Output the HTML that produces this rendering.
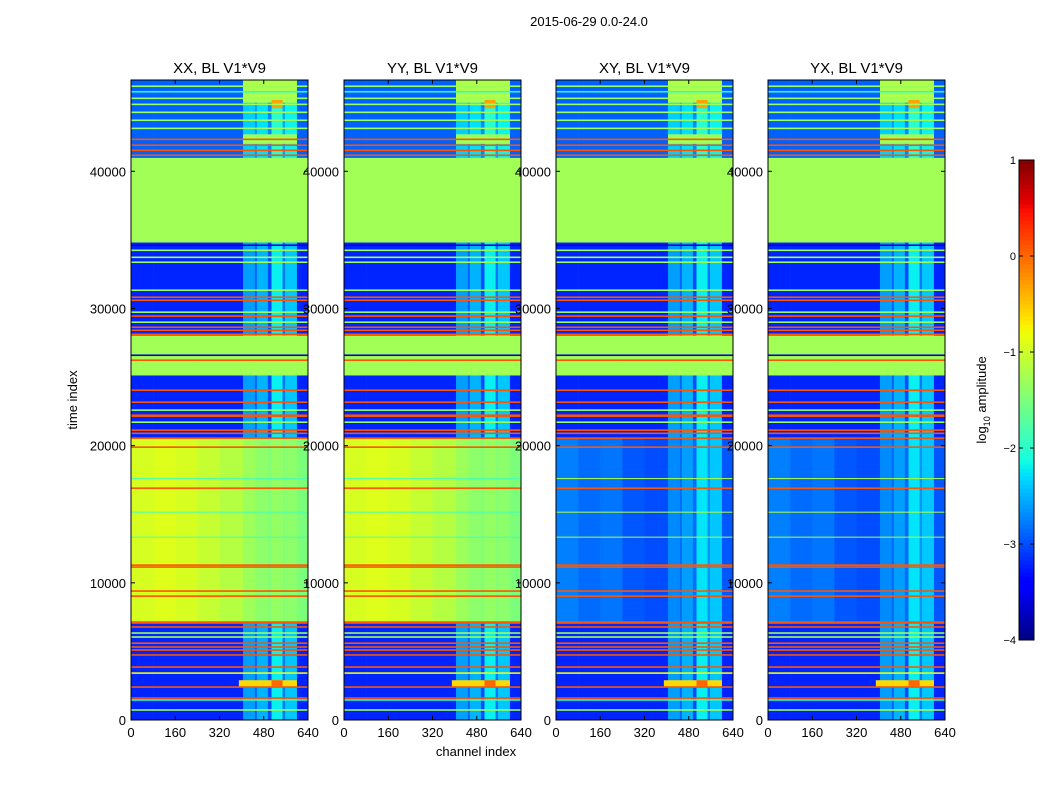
<!DOCTYPE html>
<html><head><meta charset="utf-8">
<style>
body{margin:0;background:#fff;}
svg text{font-family:"Liberation Sans",sans-serif;}
</style></head>
<body>
<svg id="fig" width="1050" height="800" xmlns="http://www.w3.org/2000/svg">
<rect width="1050" height="800" fill="#fff"/>
<text x="589" y="26" font-size="13" text-anchor="middle">2015-06-29 0.0-24.0</text>
<text x="476" y="756" font-size="13" text-anchor="middle">channel index</text>
<text transform="translate(77,400) rotate(-90)" font-size="13" text-anchor="middle">time index</text>
<g id="panels"></g>
<g id="cbar"></g>
</svg>
<script>
// ---- data ----
const panelTitles = ["XX, BL V1*V9","YY, BL V1*V9","XY, BL V1*V9","YX, BL V1*V9"];
const panelIsCross = [false,false,true,true];
const xTicks = [0,160,320,480,640];
const yTicks = [0,10000,20000,30000,40000];
const cbTicks = [1,0,-1,-2,-3,-4];
const chEdges = [0,80,160,240,320,405,448,455,495,508,548,557,600,640];
const blueProfile   = [0,0,0,0,0,0.6,0.3,0.7,0.2,1.0,0.4,0.8,0];
const yellowProfile = [0,0.05,0,-0.1,-0.2,-0.35,-0.4,-0.45,-0.5,-0.4,-0.5,-0.45,-0.55];
const crossMidProfile = [0.2,0.1,0.15,0,-0.05,0.25,0.1,0.35,0.1,0.7,0.3,0.55,0];
const bandStarts = [0,7140,20550,25140,28050,34830,41000];
const bandEnds   = [7140,20550,25140,28050,34830,41000,46656];
const bandKinds  = ["B","M","B","F","B","F","T"];
const lineTimes  = [730,1460,1600,2400,3420,3860,4740,5100,5320,5600,6050,6340,6780,7070,7140,9030,9400,11150,11290,16900,19890,20550,20900,21130,21710,22150,22220,22590,23170,24040,26230,26590,28120,28410,28630,29000,29440,29730,30600,30820,31330,33370,33730,34240,34610,41170,41530,41900,42330,43130,43720,44300,44880,45320,45800,46200];
const lineValues = [-1.3,-2.0,0.1,0.1,-0.8,0.1,0.1,0.1,0.1,0.1,-1.3,-1.3,0.1,0.1,0.1,0.1,0.1,0.1,0.1,0.1,0.1,0.1,0.1,0.1,-1.3,0.1,0.1,-1.3,0.1,0.1,0.1,-3.6,0.1,0.1,0.1,-1.3,0.1,-1.3,0.1,0.1,-1.3,-1.3,-1.3,-1.3,-3.6,0.1,0.1,0.1,0.1,-1.3,-1.3,-1.3,-1.3,-1.3,-2.0,-1.3];
const faintTimes = [13330,15150,17600];
const patchT0 = [2450,2450,45000,44600,42000];
const patchT1 = [2900,2900,46656,45200,42700];
const patchC0 = [390,508,405,508,405];
const patchC1 = [600,548,600,548,600];
const patchV  = [-0.6,0.0,-1.2,-0.3,-1.3];
const tMax = 46656;

// ---- helpers ----
function interp(pts,x){for(let i=1;i<pts.length;i++){if(x<=pts[i][0]){const a=pts[i-1],b=pts[i];return a[1]+(b[1]-a[1])*(x-a[0])/(b[0]-a[0]);}}return pts[pts.length-1][1];}
function jet(v){let x=(v+4)/5;x=Math.max(0,Math.min(1,x));
 const r=interp([[0,0],[0.35,0],[0.66,1],[0.89,1],[1,0.5]],x);
 const g=interp([[0,0],[0.125,0],[0.375,1],[0.64,1],[0.91,0],[1,0]],x);
 const b=interp([[0,0.5],[0.11,1],[0.34,1],[0.65,0],[1,0]],x);
 return `rgb(${Math.round(r*255)},${Math.round(g*255)},${Math.round(b*255)})`;}
const NS="http://www.w3.org/2000/svg";
function mk(tag,attrs,parent){const e=document.createElementNS(NS,tag);for(const k in attrs)e.setAttribute(k,attrs[k]);parent.appendChild(e);return e;}

const panelX=[131,344,556,768], pW=177, pTop=80, pBot=720;
const sx=(p,c)=>panelX[p]+c/640*pW;
const sy=t=>pBot-t/tMax*(pBot-pTop);
const panelsG=document.getElementById('panels');

for(let p=0;p<4;p++){
 const g=mk('g',{},panelsG);
 
 
 const cross=panelIsCross[p];
 for(let b=0;b<bandKinds.length;b++){
  const k=bandKinds[b];
  for(let c=0;c<chEdges.length-1;c++){
   let v;
   if(k==="F") v=-1.27;
   else if(k==="B") v=-3.2+blueProfile[c];
   else if(k==="T") v=-2.9+blueProfile[c]*0.9;
   else v = cross ? -2.95+crossMidProfile[c] : -0.95+yellowProfile[c];
   const x0=sx(p,chEdges[c]), x1=sx(p,chEdges[c+1]);
   const r=mk('rect',{x:x0,y:sy(bandEnds[b]),width:x1-x0+0.3,height:sy(bandStarts[b])-sy(bandEnds[b])+0.3,fill:jet(v)},g);
   
   
  }
 }
 for(let i=0;i<faintTimes.length;i++){
  const r=mk('rect',{x:sx(p,0),y:sy(faintTimes[i])-0.5,width:pW,height:1,fill:jet(cross?-1.2:-1.8)},g);
  
  
 }
 for(let i=0;i<patchV.length;i++){
  const r=mk('rect',{x:sx(p,patchC0[i]),y:sy(patchT1[i]),width:sx(p,patchC1[i])-sx(p,patchC0[i]),height:sy(patchT0[i])-sy(patchT1[i]),fill:jet(patchV[i])},g);
  
  
 }
 for(let i=0;i<lineTimes.length;i++){
  const r=mk('rect',{x:sx(p,0),y:sy(lineTimes[i])-0.8,width:pW,height:1.6,fill:jet(lineValues[i])},g);
  
  
 }
 const fr=mk('rect',{x:panelX[p],y:pTop,width:pW,height:pBot-pTop,fill:'none',stroke:'#000','stroke-width':1},g);
 
 
 const tt=mk('text',{x:panelX[p]+pW/2,y:73,'font-size':15,'text-anchor':'middle'},g);
 tt.textContent=panelTitles[p];
 
 
 for(const v of xTicks){
  const x=sx(p,v);
  mk('line',{x1:x,x2:x,y1:pBot,y2:pBot-4,stroke:'#000'},g);
  mk('line',{x1:x,x2:x,y1:pTop,y2:pTop+4,stroke:'#000'},g);
  const t=mk('text',{x:x,y:737,'font-size':13,'text-anchor':'middle'},g);
  t.textContent=v;
  
  
 }
 for(const v of yTicks){
  const y=sy(v);
  mk('line',{x1:panelX[p],x2:panelX[p]+4,y1:y,y2:y,stroke:'#000'},g);
  mk('line',{x1:panelX[p]+pW,x2:panelX[p]+pW-4,y1:y,y2:y,stroke:'#000'},g);
  const t=mk('text',{x:panelX[p]-5,y:y+5,'font-size':13,'text-anchor':'end'},g);
  t.textContent=v;
  
  
 }
}
// colorbar
const cb=document.getElementById('cbar');


const cbTop=160,cbBot=640,cbX=1019,cbW=15;
const cy=v=>cbBot-(v+4)/5*(cbBot-cbTop);
for(let i=0;i<120;i++){
 const v0=-4+i*5/120, v1=v0+5/120;
 mk('rect',{x:cbX,y:cy(v1),width:cbW,height:cy(v0)-cy(v1)+0.5,fill:jet((v0+v1)/2)},cb);
}
mk('rect',{x:cbX,y:cbTop,width:cbW,height:cbBot-cbTop,fill:'none',stroke:'#000'},cb);
for(const v of cbTicks){
 const y=cy(v);
 mk('line',{x1:cbX,x2:cbX+4,y1:y,y2:y,stroke:'#000'},cb);
 mk('line',{x1:cbX+cbW,x2:cbX+cbW-4,y1:y,y2:y,stroke:'#000'},cb);
 const t=mk('text',{x:cbX-3,y:y+4,'font-size':11,'text-anchor':'end'},cb);
 t.textContent=v<0?'\u2212'+(-v):String(v);
 
 
}
const cl=mk('text',{transform:'translate(986,400) rotate(-90)','font-size':13,'text-anchor':'middle'},cb);
cl.innerHTML='log<tspan font-size="9" dy="4">10</tspan><tspan dy="-4"> amplitude</tspan>';


</script>
</body></html>
